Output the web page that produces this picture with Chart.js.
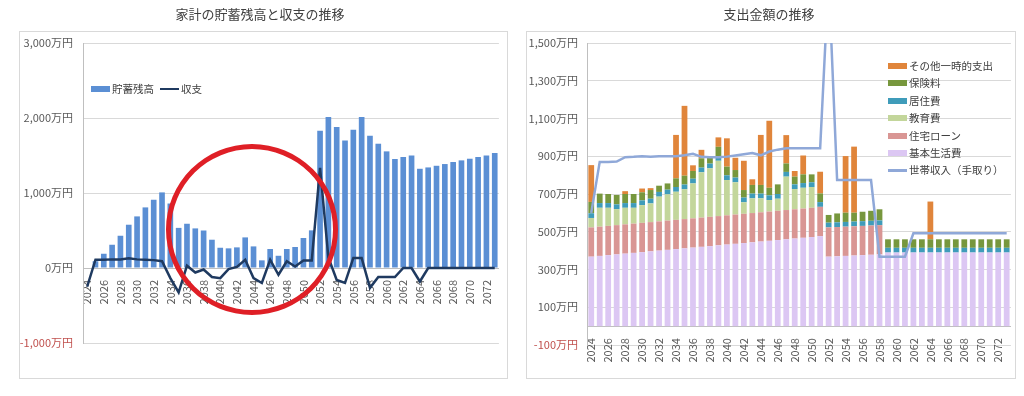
<!DOCTYPE html>
<html lang="ja">
<head>
<meta charset="utf-8">
<title>家計の貯蓄残高と支出金額の推移</title>
<script src="https://cdn.jsdelivr.net/npm/chart.js@4.4.1/dist/chart.umd.min.js"></script>
<style>
	body { margin: 0; background: #fff; font-family: "Noto Sans CJK JP", "Noto Sans", sans-serif; }
	#wrap { position: relative; width: 1024px; height: 396px; overflow: hidden; }
	.frame { position: absolute; border: 1px solid #d9d9d9; box-sizing: border-box; }
	canvas { position: absolute; top: 0; }
	.item { position: absolute; white-space: nowrap; font-size: 10.5px; line-height: 14px; color: #404040; display: flex; align-items: center; }
	.sw { display: inline-block; width: 19px; height: 6px; margin-right: 2px; }
	.sw.line { height: 2.5px; }
	#circle { position: absolute; left: 166px; top: 144px; width: 172px; height: 171px; box-sizing: border-box;
		border: 5px solid #df1f26; border-radius: 50%; }
</style>
</head>
<body>
<div id="wrap">
	<div class="frame" style="left:19px;top:31px;width:489px;height:348px;"></div>
	<div class="frame" style="left:526px;top:31px;width:490px;height:348px;"></div>
	<canvas id="savingsChart" width="512" height="396" style="left:0"></canvas>
	<canvas id="spendChart" width="512" height="396" style="left:512px"></canvas>
	<div id="leftLegend"></div>
	<div id="rightLegend"></div>
	<div id="circle"></div>
</div>
<script>
// categories
const years = ["2024","2025","2026","2027","2028","2029","2030","2031","2032","2033",
	"2034","2035","2036","2037","2038","2039","2040","2041","2042","2043",
	"2044","2045","2046","2047","2048","2049","2050","2051","2052","2053",
	"2054","2055","2056","2057","2058","2059","2060","2061","2062","2063",
	"2064","2065","2066","2067","2068","2069","2070","2071","2072","2073"];

// 左: 貯蓄残高 / 収支 (万円)
const savings = [0, 90, 190, 310, 430, 577, 688, 808, 910, 1008,
	860, 535, 590, 528, 500, 377, 270, 262, 275, 408,
	288, 102, 253, 163, 253, 280, 400, 502, 1830, 2013,
	1880, 1700, 1843, 2013, 1763, 1657, 1555, 1453, 1480, 1500,
	1323, 1341, 1363, 1386, 1413, 1435, 1457, 1480, 1500, 1533];
const balance = [-250, 110, 110, 115, 115, 130, 115, 110, 105, 90,
	-135, -325, 30, -60, -20, -120, -135, -15, 15, 110,
	-135, -200, 110, -90, 90, 20, 100, 100, 1335, 140,
	-160, -200, 135, 135, -265, -120, -120, -120, 0, 0,
	-180, 0, 0, 0, 0, 0, 0, 0, 0, 0];

// 右: 支出の内訳 (万円)
const basicLiving = [368, 372, 376, 380, 384, 388, 392, 396, 400, 404,
	408, 412, 416, 420, 424, 428, 432, 436, 440, 444,
	448, 452, 456, 460, 464, 468, 472, 477, 368, 370,
	372, 374, 376, 378, 380, 390, 390, 390, 390, 390,
	390, 390, 390, 390, 390, 390, 390, 390, 390, 390];
const mortgage = [155, 155, 155, 155, 155, 155, 155, 155, 155, 155,
	155, 155, 155, 155, 155, 155, 155, 155, 155, 155,
	155, 155, 155, 155, 155, 155, 155, 155, 155, 155,
	155, 155, 155, 155, 155, 0, 0, 0, 0, 0,
	0, 0, 0, 0, 0, 0, 0, 0, 0, 0];
const education = [50, 100, 96, 85, 88, 84, 94, 99, 131, 139,
	149, 158, 185, 240, 257, 293, 187, 171, 61, 78,
	74, 61, 64, 177, 107, 110, 110, 0, 0, 0,
	0, 0, 0, 0, 0, 0, 0, 0, 0, 0,
	0, 0, 0, 0, 0, 0, 0, 0, 0, 0];
const housing = [25, 25, 25, 25, 25, 25, 25, 25, 25, 25,
	25, 25, 25, 25, 25, 25, 25, 25, 25, 25,
	25, 25, 25, 25, 25, 25, 25, 25, 25, 25,
	25, 25, 25, 25, 25, 25, 25, 25, 25, 25,
	25, 25, 25, 25, 25, 25, 25, 25, 25, 25];
const insurance = [60, 50, 48, 50, 48, 48, 43, 46, 33, 33,
	46, 47, 41, 49, 36, 49, 46, 40, 40, 46,
	46, 40, 51, 45, 41, 46, 42, 46, 41, 47,
	49, 47, 50, 53, 59, 45, 45, 45, 45, 45,
	45, 45, 45, 45, 45, 45, 45, 45, 45, 45];
const otherOneOff = [195, 0, 0, 0, 15, 0, 20, 10, 0, 0,
	230, 370, 30, 45, 0, 50, 150, 65, 155, 30,
	265, 355, 0, 150, 30, 100, 0, 115, 0, 0,
	300, 350, 0, 0, 0, 0, 0, 0, 0, 0,
	200, 0, 0, 0, 0, 0, 0, 0, 0, 0];
const income = [600, 870, 870, 872, 895, 897, 900, 898, 900, 900,
	900, 905, 913, 897, 895, 895, 898, 904, 911, 917,
	905, 925, 935, 942, 942, 942, 942, 942, 1850, 774,
	774, 774, 774, 774, 368, 368, 368, 368, 492, 492,
	492, 492, 492, 492, 492, 492, 492, 492, 492, 492];

const FONT = '"Noto Sans CJK JP", "Noto Sans", sans-serif';
Chart.defaults.font.family = FONT;
Chart.defaults.color = '#595959';

function man(v) {
	return String(v).replace(/\B(?=(\d{3})+(?!\d))/g, ",") + "万円";
}
const tickColor = ctx => ctx.tick && ctx.tick.value < 0 ? "#c0504d" : "#595959";
const yearTick = (v, i) => i % 2 === 0 ? years[i] : "";

function xAxis() {
	return {
		position: { y: 0 },
		grid: { display: false },
		border: { color: "#bfbfbf" },
		ticks: { autoSkip: false, minRotation: 90, maxRotation: 90, padding: 4,
			font: { size: 11 }, color: "#595959", callback: yearTick }
	};
}

function titleOpt(text) {
	return { display: true, text: text, color: "#404040",
		font: { size: 13, weight: "normal" }, padding: { top: 6, bottom: 21.4 } };
}

const savingsChart = new Chart(document.getElementById("savingsChart"), {
	type: "bar",
	data: {
		labels: years,
		datasets: [
			{ type: "line", label: "収支", data: balance, borderColor: "#1f3a60", borderWidth: 2.5,
				pointRadius: 0, tension: 0, order: 0 },
			{ type: "bar", label: "貯蓄残高", data: savings, backgroundColor: "#5b8fd4",
				barPercentage: 0.68, categoryPercentage: 1, order: 1 }
		]
	},
	options: {
		responsive: false,
		animation: false,
		// left padding kept small so the y labels are not clipped by the scale box
		layout: { padding: { left: 14, right: 6, top: 0, bottom: 53 } },
		plugins: {
			legend: { display: false },
			tooltip: { enabled: false },
			title: titleOpt("家計の貯蓄残高と収支の推移")
		},
		scales: {
			x: xAxis(),
			y: {
				min: -1000, max: 3000,
				grid: { color: "#d9d9d9", drawTicks: false },
				border: { color: "#bfbfbf" },
				ticks: { stepSize: 1000, padding: 10, font: { size: 11 }, color: tickColor, callback: man },
				afterFit: s => { s.width = 69; }
			}
		}
	}
});

const stackSets = [
	{ label: "基本生活費", data: basicLiving, backgroundColor: "#dcc7f3" },
	{ label: "住宅ローン", data: mortgage, backgroundColor: "#d99694" },
	{ label: "教育費", data: education, backgroundColor: "#c3d69b" },
	{ label: "居住費", data: housing, backgroundColor: "#3f9cba" },
	{ label: "保険料", data: insurance, backgroundColor: "#77973d" },
	{ label: "その他一時的支出", data: otherOneOff, backgroundColor: "#e0853b" }
];

const spendChart = new Chart(document.getElementById("spendChart"), {
	type: "bar",
	data: {
		labels: years,
		datasets: [
			{ type: "line", label: "世帯収入（手取り）", data: income, borderColor: "#8fa8d8", borderWidth: 2.5,
				pointRadius: 0, tension: 0, order: 0, stack: "income" }
		].concat(stackSets.map(d => Object.assign({ type: "bar", order: 1, stack: "spend",
			barPercentage: 0.68, categoryPercentage: 1 }, d)))
	},
	options: {
		responsive: false,
		animation: false,
		layout: { padding: { left: 14, right: 12, top: 0, bottom: 51 } },
		plugins: {
			legend: { display: false },
			tooltip: { enabled: false },
			title: titleOpt("支出金額の推移")
		},
		scales: {
			x: Object.assign(xAxis(), { stacked: true }),
			y: {
				stacked: true,
				min: -100, max: 1500,
				grid: { color: "#d9d9d9", drawTicks: false },
				border: { color: "#bfbfbf" },
				ticks: { stepSize: 200, padding: 9, font: { size: 11 }, color: tickColor, callback: man },
				afterFit: s => { s.width = 61; }
			}
		}
	}
});

// html legends
function addItem(parent, ds, left, top) {
	const el = document.createElement("div");
	el.className = "item";
	el.style.left = left + "px";
	el.style.top = top + "px";
	const sw = document.createElement("span");
	sw.className = ds.type === "line" ? "sw line" : "sw";
	sw.style.background = ds.type === "line" ? ds.borderColor : ds.backgroundColor;
	el.appendChild(sw);
	el.appendChild(document.createTextNode(ds.label));
	parent.appendChild(el);
}

const leftLegend = document.getElementById("leftLegend");
const lds = savingsChart.data.datasets;
addItem(leftLegend, lds[1], 91, 82);
addItem(leftLegend, lds[0], 160, 82);

const rightLegend = document.getElementById("rightLegend");
const rds = spendChart.data.datasets;
const legendOrder = [6, 5, 4, 3, 2, 1, 0];
legendOrder.forEach((idx, i) => addItem(rightLegend, rds[idx], 888, 59 + i * 17.4));
</script>
</body>
</html>
